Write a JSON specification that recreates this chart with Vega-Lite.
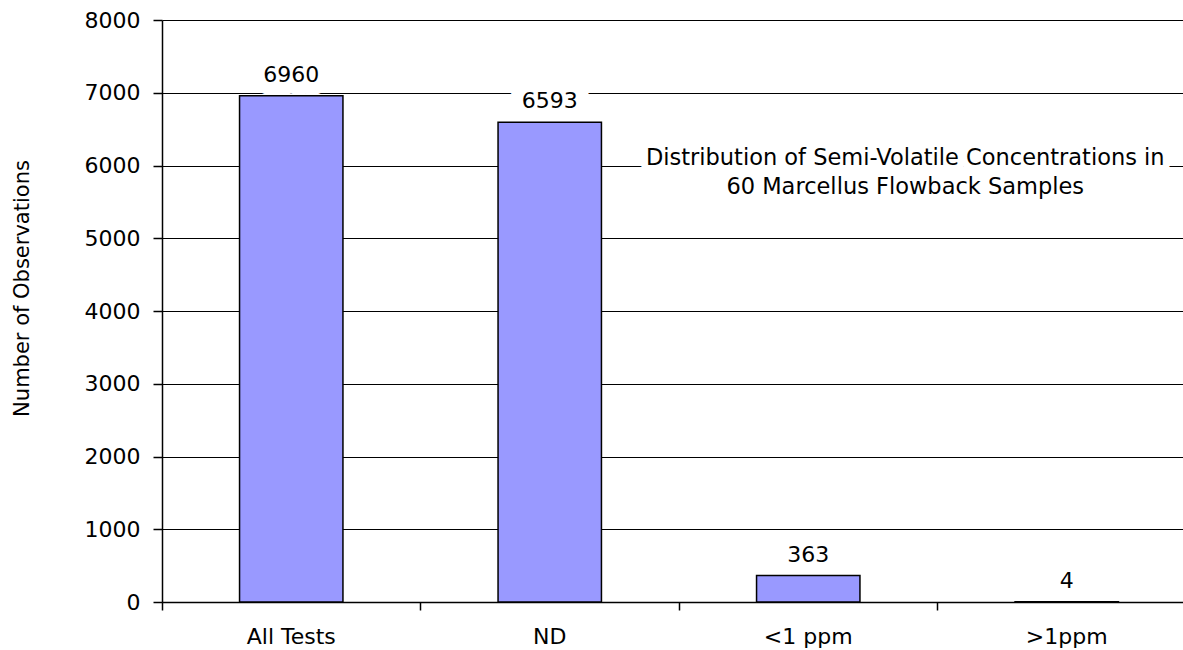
{
  "$schema": "https://vega.github.io/schema/vega-lite/v6.json",
  "width": 1021,
  "height": 582,
  "autosize": {"type": "none"},
  "padding": {"left": 162, "top": 20, "right": 0, "bottom": 48},
  "background": "white",
  "config": {
    "font": "DejaVu Sans",
    "view": {"stroke": null}
  },
  "datasets": {
    "bars": [
      {"category": "All Tests", "count": 6960},
      {"category": "ND", "count": 6593},
      {"category": "<1 ppm", "count": 363},
      {"category": ">1ppm", "count": 4}
    ],
    "note": [
      {"category": "<1 ppm", "count": 6000, "lines": ["Distribution of Semi-Volatile Concentrations in", "60 Marcellus Flowback Samples"]}
    ]
  },
  "data": {"name": "bars"},
  "encoding": {
    "x": {
      "field": "category",
      "type": "nominal",
      "sort": null,
      "scale": {"range": [0, 1034], "paddingInner": 0.6, "paddingOuter": 0.3},
      "axis": {
        "title": null,
        "labelAngle": 0,
        "labelFontSize": 22,
        "labelColor": "black",
        "labelPadding": 16,
        "tickSize": 8,
        "tickColor": "black",
        "tickWidth": 1.5,
        "domainColor": "black",
        "domainWidth": 1.5,
        "bandPosition": -0.75,
        "grid": false
      }
    },
    "y": {
      "field": "count",
      "type": "quantitative",
      "scale": {"domain": [0, 8000], "nice": false},
      "axis": {
        "title": "Number of Observations",
        "values": [0, 1000, 2000, 3000, 4000, 5000, 6000, 7000, 8000],
        "format": "d",
        "grid": true,
        "gridColor": "black",
        "gridWidth": 1,
        "gridOpacity": 1,
        "tickSize": 9,
        "tickColor": "black",
        "tickWidth": 1.5,
        "labelPadding": 13,
        "labelFontSize": 22,
        "labelColor": "black",
        "domainColor": "black",
        "domainWidth": 1.5,
        "titleFontSize": 21,
        "titleFontWeight": "normal",
        "titleColor": "black",
        "titlePadding": 52,
        "titleY": 268
      }
    }
  },
  "layer": [
    {
      "mark": {"type": "text", "baseline": "alphabetic", "dy": -14, "fontSize": 22, "fill": "white", "stroke": "white", "strokeWidth": 26, "strokeJoin": "round"},
      "encoding": {"text": {"field": "count", "type": "quantitative", "format": "d"}}
    },
    {
      "data": {"name": "note"},
      "mark": {"type": "text", "baseline": "alphabetic", "align": "center", "dx": 97, "dy": -1, "lineHeight": 29, "fontSize": 22.5, "fill": "white", "stroke": "white", "strokeWidth": 14, "strokeJoin": "round"},
      "encoding": {
        "text": {"field": "lines"}
      }
    },
    {
      "mark": {"type": "bar", "fill": "#9999FF", "stroke": "black", "strokeWidth": 1.5}
    },
    {
      "mark": {"type": "text", "baseline": "alphabetic", "dy": -14, "fontSize": 22, "fill": "black"},
      "encoding": {"text": {"field": "count", "type": "quantitative", "format": "d"}}
    },
    {
      "data": {"name": "note"},
      "mark": {"type": "text", "baseline": "alphabetic", "align": "center", "dx": 97, "dy": -1, "lineHeight": 29, "fontSize": 22.5, "fill": "black"},
      "encoding": {
        "text": {"field": "lines"}
      }
    }
  ]
}
